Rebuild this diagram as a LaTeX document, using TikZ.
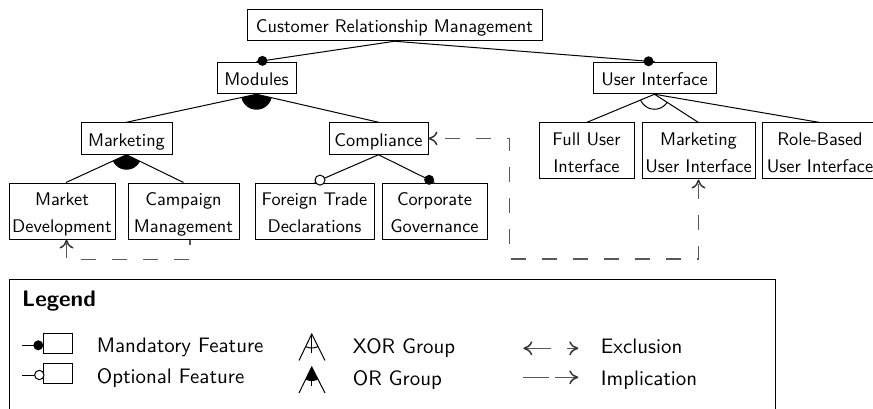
\documentclass[tikz,border=0pt]{standalone}
\usepackage{fontspec}
\newfontfamily\featfont{lmsans10-regular.otf}[BoldFont=lmsans10-bold.otf]
\usetikzlibrary{calc,arrows.meta}
% strut giving both lines of a two-line feature box a fixed height and depth
\newcommand\featstrut{\rule[-3.6pt]{0pt}{23.2pt}}
\newcommand\twoline[2]{\featstrut#1\\#2\featstrut}
\begin{document}
\begin{tikzpicture}[x=1pt,y=-1pt,
  feat/.style={draw, line width=1pt, inner sep=0pt, align=center,
    font=\featfont\fontsize{18.3}{26.6}\selectfont},
  one/.style={feat, minimum height=31.5pt, text height=16pt, text depth=0pt},
  two/.style={feat, minimum height=56pt},
  edge/.style={line width=1pt},
  mand/.style={fill=black},
  opt/.style={fill=white, draw=black, line width=1pt},
  dep/.style={draw=black!65, line width=1.5pt, dash pattern=on 15pt off 16pt},
  tip/.tip={To[length=9pt,width=14pt,color=black!80]},
  excl/.style={dep, tip-tip},
  impl/.style={dep, -tip},
  legtext/.style={font=\featfont\fontsize{20.9}{25}\selectfont, anchor=base west, inner sep=0pt},
  legtitle/.style={font=\featfont\bfseries\fontsize{22.5}{27}\selectfont, anchor=base west, inner sep=0pt},
  legbox/.style={draw, line width=1pt, minimum width=29.4pt, minimum height=20pt, inner sep=0pt}]
\useasboundingbox (0,0) rectangle (873,409);

% feature tree
\node[one, minimum width=295pt] (crm) at (394.5,25) {Customer Relationship Management};
\node[one, minimum width=79pt]  (mod) at (256.5,78) {Modules};
\node[one, minimum width=123pt] (ui)  at (654.5,78) {User Interface};
\node[one, minimum width=91pt]  (mkt) at (126.5,138.5) {Marketing};
\node[one, minimum width=99pt]  (comp) at (378.5,138.5) {Compliance};
\node[two, minimum width=95pt]  (full) at (586.5,151) {\twoline{Full User}{Interface}};
\node[two, minimum width=113pt] (mui) at (698.5,151) {\twoline{Marketing}{User Interface}};
\node[two, minimum width=116pt] (rb)  at (820,151) {\twoline{Role-Based}{User Interface}};
\node[two, minimum width=106pt] (md)  at (62,211) {\twoline{Market}{Development}};
\node[two, minimum width=111pt] (cm)  at (183.5,211) {\twoline{Campaign}{Management}};
\node[two, minimum width=119pt] (ft)  at (314.5,211) {\twoline{Foreign Trade}{Declarations}};
\node[two, minimum width=105pt] (cg)  at (434.5,211) {\twoline{Corporate}{Governance}};

\coordinate (mdtop) at ($(md.north)+(4,0)$);
\coordinate (mdbot) at ($(md.south)+(4.5,0)$);
\coordinate (cmbot) at ($(cm.south)+(6.5,0)$);

\draw[edge] (crm.south) -- (mod.north);
\draw[edge] (crm.south) -- (ui.north);
\draw[edge] (mod.south) -- (mkt.north);
\draw[edge] (mod.south) -- (comp.north);
\draw[edge] (mkt.south) -- (mdtop);
\draw[edge] (mkt.south) -- (cm.north);
\draw[edge] (comp.south) -- (ft.north);
\draw[edge] (comp.south) -- (cg.north);
\draw[edge] (ui.south) -- (full.north);
\draw[edge] (ui.south) -- (mui.north);
\draw[edge] (ui.south) -- (rb.north);

% mandatory / optional markers
\fill[mand] ($(mod.north)!6pt!(crm.south)$) circle (5pt);
\fill[mand] ($(ui.north)!6pt!(crm.south)$) circle (5pt);
\draw[opt]  ($(ft.north)!6pt!(comp.south)$) circle (5pt);
\fill[mand] ($(cg.north)!6pt!(comp.south)$) circle (5pt);

% group arcs
\begin{scope}
  \clip (mod.south) -- (mkt.north) -- (comp.north) -- cycle;
  \fill (mod.south) circle (15.5pt);
\end{scope}
\begin{scope}
  \clip (mkt.south) -- (mdtop) -- (cm.north) -- cycle;
  \fill (mkt.south) circle (15pt);
\end{scope}
\begin{scope}
  \clip (ui.south) -- (full.north) -- (mui.north) -- cycle;
  \draw[edge] (ui.south) circle (15pt);
\end{scope}

% cross-tree constraints
\coordinate (exbend) at (509.5,259);
\draw[excl, dash phase=16pt] (comp.east) -| (exbend) -| (mui.south);
\draw[impl, dash phase=10pt] (cmbot) -- ++(0,20) -| (mdbot);

% legend
\node[draw, line width=1.3pt, minimum width=766pt, minimum height=150pt,
      anchor=north west, inner sep=0pt] (legend) at (9,279) {};
\node[legtitle] (lt) at (22,306) {Legend};

\node[legbox] (lmb) at (58,343.3) {};
\coordinate (lms) at (22,345.3);
\coordinate (lmc) at (38.3,345.3);
\draw[edge] (lms) -- (lmc);
\fill[mand] (lmc) circle (5pt);
\node[legtext] (lmt) at (96.7,352) {Mandatory Feature};

\node[legbox] (lob) at (58,373.3) {};
\coordinate (los) at (22,375);
\coordinate (loc) at (39.3,375);
\draw[edge] (los) -- (loc);
\draw[opt] (loc) circle (4.7pt);
\node[legtext] (lot) at (96.7,383.5) {Optional Feature};

\coordinate (xa) at (311.7,334);
\coordinate (xl) at (299,360.5);
\coordinate (xr) at (325,360.5);
\coordinate (xm) at (311.7,353);
\draw[edge] (xl) -- (xa) -- (xr);
\draw[edge] (xa) -- (xm);
\begin{scope}
  \clip (xa) -- (xl) -- (xr) -- cycle;
  \draw[edge] (xa) circle (14pt);
\end{scope}
\node[legtext] (lxt) at (352.7,353) {XOR Group};

\coordinate (oa) at (311.7,367);
\coordinate (ol) at (299,393);
\coordinate (or) at (325,393);
\coordinate (om) at (311.7,386);
\begin{scope}
  \clip (oa) -- (ol) -- (or) -- cycle;
  \fill (oa) circle (14pt);
\end{scope}
\draw[edge] (ol) -- (oa) -- (or);
\draw[edge] (oa) -- (om);
\node[legtext] (lort) at (352.7,385) {OR Group};

\coordinate (ea) at (523.3,348.3);
\coordinate (eb) at (578.3,348.3);
\draw[dep, tip-tip, dash pattern=on 26pt off 16pt] (ea) -- (eb);
\node[legtext] (let) at (600.7,353.3) {Exclusion};

\coordinate (ia) at (523.3,377.3);
\coordinate (ib) at (578.3,377.3);
\draw[dep, -tip, dash pattern=on 26pt off 6pt] (ia) -- (ib);
\node[legtext] (lit) at (600.7,385) {Implication};
\end{tikzpicture}
\end{document}
